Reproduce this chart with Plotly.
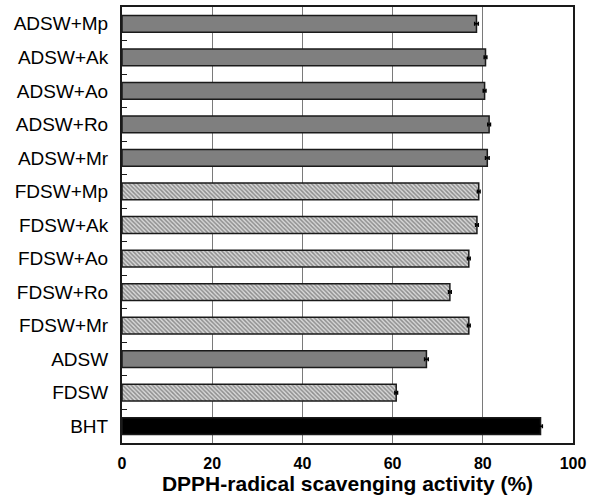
import plotly.graph_objects as go

categories = ["ADSW+Mp", "ADSW+Ak", "ADSW+Ao", "ADSW+Ro", "ADSW+Mr",
              "FDSW+Mp", "FDSW+Ak", "FDSW+Ao", "FDSW+Ro", "FDSW+Mr",
              "ADSW", "FDSW", "BHT"]
values = [78.6, 80.6, 80.4, 81.4, 81.0,
          79.1, 78.7, 76.9, 72.7, 76.9,
          67.5, 60.8, 92.8]
errors = [0.4, 0.3, 0.3, 0.3, 0.4,
          0.3, 0.3, 0.3, 0.3, 0.3,
          0.4, 0.3, 0.4]
groups = ["ADSW", "ADSW", "ADSW", "ADSW", "ADSW",
          "FDSW", "FDSW", "FDSW", "FDSW", "FDSW",
          "ADSW", "FDSW", "BHT"]
x_ticks = [0, 20, 40, 60, 80, 100]

fill = {"ADSW": "#7f7f7f", "FDSW": "#d8d8d8", "BHT": "#000000"}
shape = {"ADSW": "", "FDSW": "\\", "BHT": ""}

fig = go.Figure()
fig.add_trace(go.Bar(
    y=categories, x=values, orientation="h", width=0.5,
    marker=dict(
        color=[fill[g] for g in groups],
        line=dict(color="#1a1a1a", width=1.5),
        pattern=dict(shape=[shape[g] for g in groups], fgcolor="#333333",
                     bgcolor="#d4d4d4", size=3, solidity=0.5),
    ),
    error_x=dict(type="data", array=errors, visible=True, color="#000000",
                 thickness=1.5, width=2),
    showlegend=False,
    hoverinfo="skip",
))

fig.update_layout(
    width=597, height=504,
    margin=dict(l=122, r=24, t=7, b=61, autoexpand=False),
    paper_bgcolor="white", plot_bgcolor="white",
    font=dict(family="Liberation Sans, Arial, sans-serif", color="black"),
    bargap=0.5,
    xaxis=dict(
        range=[0, 100], tickvals=x_ticks, ticks="",
        showgrid=True, gridcolor="#7a7a7a", gridwidth=1,
        showline=True, linecolor="#1a1a1a", linewidth=2, mirror=True,
        zeroline=False,
        tickfont=dict(size=16, weight="bold"),
        ticklabelstandoff=5,
        title=dict(text="DPPH-radical scavenging activity (%)",
                   font=dict(size=21, weight="bold"), standoff=5),
    ),
    yaxis=dict(
        categoryorder="array", categoryarray=categories, autorange="reversed",
        showline=True, linecolor="#1a1a1a", linewidth=2, mirror=True,
        ticks="inside", ticklen=5, tickcolor="#1a1a1a", tickwidth=1,
        tickson="boundaries",
        tickfont=dict(size=19),
        ticklabelstandoff=8,
        showgrid=False,
    ),
)

fig.write_html("out.html", config={"displayModeBar": False},
               post_script="document.body.style.margin='0';document.body.style.padding='0';")
